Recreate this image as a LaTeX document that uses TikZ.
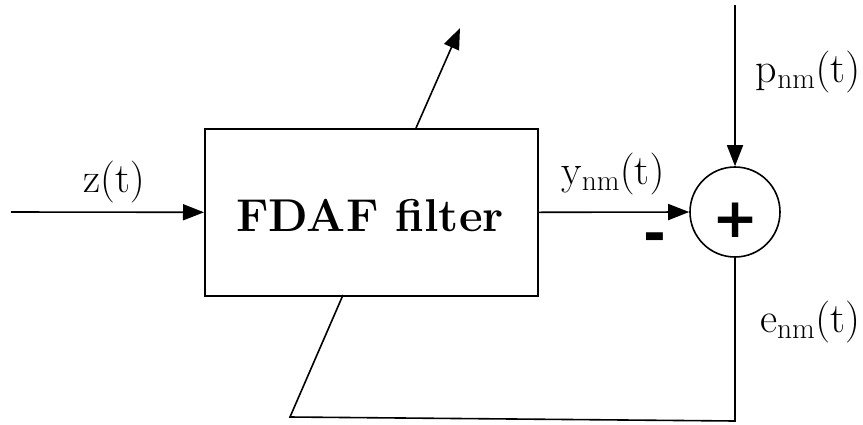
\RequirePackage{fix-cm}
\documentclass[tikz,border=0pt]{standalone}
\usepackage{fontspec}
\newfontfamily\signfont{DejaVu Sans}
\usetikzlibrary{arrows.meta}
\begin{document}
\begin{tikzpicture}[x=1pt,y=-1pt,
  line width=1.6pt,
  arr/.style={-{Triangle[length=21pt,width=16pt]}},
  lbl/.style={font=\fontsize{42}{48}\selectfont, inner sep=0pt},
  sign/.style={font=\fontsize{55}{60}\signfont\bfseries, inner sep=0pt}]
\useasboundingbox (0,0) rectangle (863,424);
\node[draw, minimum width=333pt, minimum height=167pt, inner sep=0pt, anchor=north west] (box) at (204,128) {};
\node[font=\fontsize{46}{52}\selectfont\bfseries, inner sep=0pt] (boxtext) at (370,216) {FDAF filter};
\node[draw, circle, minimum size=90pt, inner sep=0pt] (sum) at (735,212) {};
\node[sign] (plus) at (735.5,220) {+};
\node[sign] (minus) at (655,243) {-};
\coordinate (in) at (11,212);
\coordinate (ptop) at (735,5);
\coordinate (adapt) at (460,28);
\coordinate (abase) at (416,128);
\coordinate (fbr) at (735,421);
\coordinate (fbl) at (290,417);
\coordinate (fbt) at (343,295);
\draw[arr] (in) -- (box.west);
\draw[arr] (box.east) -- (sum.west);
\draw[arr] (ptop) -- (sum.north);
\draw[arr] (abase) -- (adapt);
\draw (sum.south) -- (fbr) -- (fbl) -- (fbt);
\node[lbl] (zl) at (114,182) {$\mathrm{z(t)}$};
\node[lbl] (yl) at (613,174) {$\mathrm{y_{nm}(t)}$};
\node[lbl] (pl) at (808,72) {$\mathrm{p_{nm}(t)}$};
\node[lbl] (el) at (810,322) {$\mathrm{e_{nm}(t)}$};
\end{tikzpicture}
\end{document}
